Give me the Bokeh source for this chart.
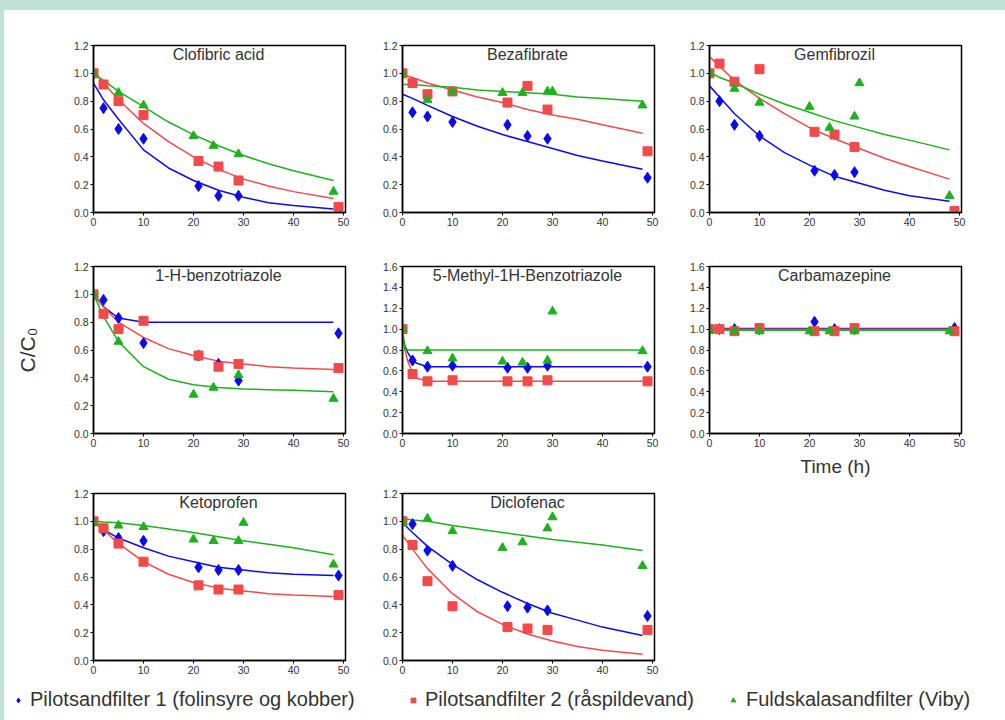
from bokeh.plotting import figure
from bokeh.models import (Range1d, FixedTicker, PrintfTickFormatter, Label, Legend,
                          LegendItem, Div)
from bokeh.layouts import row, column
from bokeh.embed import file_html
from bokeh.resources import INLINE

NAN = float("nan")

# ---------------- data ----------------
SERIES = ["Pilotsandfilter 1 (folinsyre og kobber)",
          "Pilotsandfilter 2 (råspildevand)",
          "Fuldskalasandfilter (Viby)"]
T_PILOT = [0, 2, 5, 10, 21, 25, 29, 49]          # blue + red sampling times (h)
T_FULL = [0, 5, 10, 20, 24, 29, 30, 48]          # green sampling times (h)
FIT_T = [0, 2, 5, 10, 15, 20, 25, 30, 35, 40, 48]
FIT_T_FAST = [0, 0.5, 1, 2, 3, 5, 10, 20, 30, 40, 48]
X_TICKS = [0, 10, 20, 30, 40, 50]

NAMES = ["Clofibric acid", "Bezafibrate", "Gemfibrozil", "1-H-benzotriazole",
         "5-Methyl-1H-Benzotriazole", "Carbamazepine", "Ketoprofen", "Diclofenac"]
Y_MAX = [1.2, 1.2, 1.2, 1.2, 1.6, 1.6, 1.2, 1.2]

CLOF_B = [1.0, 0.75, 0.60, 0.53, 0.19, 0.12, 0.12, 0.03]
CLOF_R = [1.0, 0.92, 0.80, 0.70, 0.37, 0.33, 0.23, 0.04]
CLOF_G = [1.0, 0.86, 0.77, 0.55, 0.48, 0.42, NAN, 0.15]
CLOF_FB = [0.93, 0.81, 0.67, 0.45, 0.32, 0.23, 0.16, 0.11, 0.07, 0.05, 0.025]
CLOF_FR = [1.01, 0.93, 0.81, 0.64, 0.51, 0.40, 0.31, 0.24, 0.19, 0.15, 0.10]
CLOF_FG = [1.00, 0.95, 0.87, 0.76, 0.65, 0.56, 0.48, 0.41, 0.35, 0.30, 0.23]

BEZA_B = [1.0, 0.72, 0.69, 0.65, 0.63, 0.55, 0.53, 0.25]
BEZA_R = [1.0, 0.93, 0.85, 0.87, 0.79, 0.91, 0.74, 0.44]
BEZA_G = [1.0, 0.81, 0.87, 0.86, 0.86, 0.87, 0.87, 0.77]
BEZA_FB = [0.85, 0.82, 0.77, 0.69, 0.62, 0.56, 0.51, 0.46, 0.41, 0.37, 0.31]
BEZA_FR = [0.99, 0.97, 0.93, 0.88, 0.83, 0.79, 0.74, 0.70, 0.67, 0.63, 0.57]
BEZA_FG = [0.92, 0.92, 0.91, 0.90, 0.88, 0.87, 0.86, 0.85, 0.83, 0.82, 0.80]

GEMF_B = [1.0, 0.80, 0.63, 0.55, 0.30, 0.27, 0.29, 0.0]
GEMF_R = [1.0, 1.07, 0.94, 1.03, 0.58, 0.56, 0.47, 0.01]
GEMF_G = [1.0, 0.89, 0.79, 0.76, 0.61, 0.69, 0.93, 0.12]
GEMF_FB = [0.91, 0.83, 0.71, 0.55, 0.43, 0.34, 0.26, 0.21, 0.16, 0.12, 0.08]
GEMF_FR = [1.12, 1.05, 0.95, 0.82, 0.71, 0.61, 0.53, 0.46, 0.39, 0.33, 0.24]
GEMF_FG = [1.01, 0.97, 0.93, 0.85, 0.78, 0.72, 0.66, 0.61, 0.56, 0.52, 0.45]

BTZ_B = [1.0, 0.96, 0.83, 0.65, 0.56, 0.50, 0.38, 0.72]
BTZ_R = [1.0, 0.86, 0.75, 0.81, 0.56, 0.48, 0.50, 0.47]
BTZ_G = [1.0, 0.66, NAN, 0.28, 0.33, 0.42, NAN, 0.25]
BTZ_FB = [1.0, 0.91, 0.83, 0.80, 0.80, 0.80, 0.80, 0.80, 0.80, 0.80, 0.80]
BTZ_FR = [1.0, 0.91, 0.80, 0.69, 0.61, 0.56, 0.52, 0.50, 0.48, 0.47, 0.46]
BTZ_FG = [1.0, 0.84, 0.66, 0.48, 0.39, 0.35, 0.33, 0.32, 0.315, 0.31, 0.30]

MBTZ_B = [1.0, 0.70, 0.64, 0.65, 0.63, 0.63, 0.65, 0.64]
MBTZ_R = [1.0, 0.57, 0.50, 0.51, 0.50, 0.50, 0.51, 0.50]
MBTZ_G = [1.0, 0.79, 0.72, 0.69, 0.68, 0.70, 1.17, 0.79]
MBTZ_FB = [0.90, 0.84, 0.78, 0.70, 0.67, 0.64, 0.64, 0.64, 0.64, 0.64, 0.64]
MBTZ_FR = [1.0, 0.80, 0.70, 0.58, 0.53, 0.50, 0.50, 0.50, 0.50, 0.50, 0.50]
MBTZ_FG = [1.0, 0.80, 0.80, 0.80, 0.80, 0.80, 0.80, 0.80, 0.80, 0.80, 0.80]

CARB_B = [1.0, 1.0, 1.0, 1.0, 1.07, 1.0, 1.0, 1.01]
CARB_R = [1.0, 1.0, 0.98, 1.01, 0.98, 0.98, 1.01, 0.98]
CARB_G = [0.99, 0.98, 0.98, 0.98, 0.98, 0.98, NAN, 0.98]
CARB_FB = [1.005] * 11
CARB_FR = [1.0] * 11
CARB_FG = [0.99] * 11

KETO_B = [1.0, 0.93, 0.88, 0.86, 0.67, 0.65, 0.65, 0.61]
KETO_R = [1.0, 0.95, 0.84, 0.71, 0.54, 0.51, 0.51, 0.47]
KETO_G = [0.99, 0.97, 0.96, 0.87, 0.86, 0.86, 0.99, 0.69]
KETO_FB = [1.0, 0.94, 0.88, 0.81, 0.75, 0.71, 0.67, 0.65, 0.63, 0.62, 0.61]
KETO_FR = [1.0, 0.94, 0.84, 0.71, 0.62, 0.56, 0.52, 0.50, 0.48, 0.47, 0.46]
KETO_FG = [1.0, 0.995, 0.99, 0.97, 0.945, 0.92, 0.89, 0.86, 0.835, 0.81, 0.76]

DICL_B = [1.0, 0.98, 0.79, 0.68, 0.39, 0.38, 0.36, 0.32]
DICL_R = [1.0, 0.83, 0.57, 0.39, 0.24, 0.23, 0.22, 0.22]
DICL_G = [0.99, 1.02, 0.93, 0.81, 0.85, 0.95, 1.03, 0.68]
DICL_FB = [0.99, 0.92, 0.82, 0.69, 0.58, 0.49, 0.41, 0.34, 0.29, 0.24, 0.18]
DICL_FR = [0.90, 0.80, 0.66, 0.48, 0.35, 0.26, 0.19, 0.14, 0.10, 0.074, 0.045]
DICL_FG = [1.02, 1.01, 1.0, 0.97, 0.945, 0.92, 0.895, 0.87, 0.85, 0.83, 0.79]

PANELS = [
    (CLOF_B, CLOF_R, CLOF_G, FIT_T, CLOF_FB, CLOF_FR, CLOF_FG),
    (BEZA_B, BEZA_R, BEZA_G, FIT_T, BEZA_FB, BEZA_FR, BEZA_FG),
    (GEMF_B, GEMF_R, GEMF_G, FIT_T, GEMF_FB, GEMF_FR, GEMF_FG),
    (BTZ_B, BTZ_R, BTZ_G, FIT_T, BTZ_FB, BTZ_FR, BTZ_FG),
    (MBTZ_B, MBTZ_R, MBTZ_G, FIT_T_FAST, MBTZ_FB, MBTZ_FR, MBTZ_FG),
    (CARB_B, CARB_R, CARB_G, FIT_T, CARB_FB, CARB_FR, CARB_FG),
    (KETO_B, KETO_R, KETO_G, FIT_T, KETO_FB, KETO_FR, KETO_FG),
    (DICL_B, DICL_R, DICL_G, FIT_T, DICL_FB, DICL_FR, DICL_FG),
]

# ---------------- style ----------------
BLUE = "#0a0aee"
RED = "#f24a4a"
GREEN = "#1db21d"
FONT = "Liberation Sans"
TXT = "#333333"
GREEN_BG = "#c0e2d2"

COL_BORDERS = [(89, 5), (52, 5), (50, 44)]
ROW_BORDERS = [(35, 20), (34, 40), (14, 20)]


def make_panel(i):
    pb, pr, pg, ft, fb, fr, fg = PANELS[i]
    r, c = divmod(i, 3)
    left, right = COL_BORDERS[c]
    top, bottom = ROW_BORDERS[r]
    ymax = Y_MAX[i]
    p = figure(frame_width=252, frame_height=167,
               x_range=Range1d(0, 50.4), y_range=Range1d(0, ymax),
               output_backend="svg", toolbar_location=None,
               min_border_left=left, min_border_right=right,
               min_border_top=top, min_border_bottom=bottom,
               background_fill_color="white", border_fill_color="white")
    p.grid.visible = False
    p.outline_line_color = "black"
    p.outline_line_width = 1.5
    p.outline_line_alpha = 1.0
    p.xaxis.ticker = FixedTicker(ticks=X_TICKS)
    p.yaxis.ticker = FixedTicker(ticks=[round(0.2 * k, 1) for k in range(int(round(ymax / 0.2)) + 1)])
    p.yaxis.formatter = PrintfTickFormatter(format="%.1f")
    for ax in p.axis:
        ax.major_tick_out = 3
        ax.major_tick_in = 0
        ax.minor_tick_line_color = None
        ax.axis_line_width = 1.5
        ax.axis_line_color = "black"
        ax.major_tick_line_color = "black"
        ax.major_label_text_font = FONT
        ax.major_label_text_font_size = "10.5px"
        ax.major_label_text_color = TXT
        ax.major_label_standoff = 2
        ax.axis_label_text_font = FONT
        ax.axis_label_text_font_style = "normal"
        ax.axis_label_text_color = TXT

    p.line(ft, fb, color=BLUE, line_width=1.5)
    p.line(ft, fr, color=RED, line_width=1.5)
    p.line(ft, fg, color=GREEN, line_width=1.5)
    p.scatter(T_PILOT, pb, marker="diamond", size=11, color=BLUE)
    p.scatter(T_PILOT, pr, marker="square", size=9, color=RED)
    p.scatter(T_FULL, pg, marker="triangle", size=9, color=GREEN)

    p.add_layout(Label(x=25, y=ymax, y_offset=0, text=NAMES[i], text_align="center",
                       text_baseline="top", text_font=FONT, text_font_size="16px",
                       text_color=TXT))
    if i == 3:
        p.yaxis.axis_label = "C/C\u2080"
        p.yaxis.axis_label_text_font_size = "21px"
        p.yaxis.axis_label_standoff = 32
    if i == 5:
        p.xaxis.axis_label = "Time (h)"
        p.xaxis.axis_label_text_font_size = "19px"
        p.xaxis.axis_label_standoff = 6
    return p


panels = [make_panel(i) for i in range(8)]

# legend strip (renderers hold one point placed outside the visible range)
lf = figure(width=1001, height=46, x_range=Range1d(0, 1), y_range=Range1d(0, 1),
            output_backend="svg", toolbar_location=None, min_border=0,
            x_axis_location=None, y_axis_location=None, outline_line_color=None)
lf.grid.visible = False
rb = lf.scatter([-5], [-5], marker="diamond", size=11, color=BLUE)
rr = lf.scatter([-5], [-5], marker="square", size=8, color=RED)
rg = lf.scatter([-5], [-5], marker="triangle", size=8, color=GREEN)
for rend, label, xpos, standoff in [(rb, SERIES[0], 8, 6), (rr, SERIES[1], 403, 6),
                                    (rg, SERIES[2], 723, 7)]:
    leg = Legend(items=[LegendItem(label=label, renderers=[rend])], location=(xpos, 15),
                 orientation="horizontal", padding=0, margin=0, glyph_width=12,
                 glyph_height=16, label_height=16, label_standoff=standoff,
                 label_text_font=FONT, label_text_font_size="20px", label_text_color=TXT,
                 border_line_color=None, background_fill_alpha=0)
    lf.add_layout(leg)

top_bar = Div(text="", width=1005, height=10, margin=0,
              styles={"background-color": GREEN_BG})
left_bar = Div(text="", width=4, height=710, margin=0,
               styles={"background-color": GREEN_BG})

grid = column(row(panels[0], panels[1], panels[2]),
              row(panels[3], panels[4], panels[5]),
              row(panels[6], panels[7]),
              lf)
page = column(top_bar, row(left_bar, grid))

open("out.html", "w").write(file_html(page, INLINE))
